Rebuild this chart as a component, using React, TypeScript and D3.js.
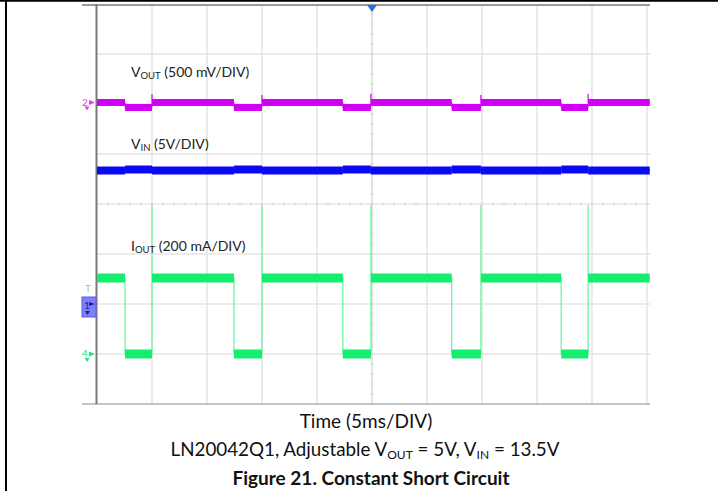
import React from "react";
import * as d3 from "d3";

// time in divisions (5 ms/div), levels in vertical divisions from bottom
const edgeTimes = [0, 0.51, 1.0, 2.49, 3.0, 4.47, 4.98, 6.45, 6.98, 8.44, 8.93, 10.05];
const ioutLevels = [2.52, 1.0, 2.52, 1.0, 2.52, 1.0, 2.52, 1.0, 2.52, 1.0, 2.52];
const voutLevels = [6.03, 5.93, 6.03, 5.93, 6.03, 5.93, 6.03, 5.93, 6.03, 5.93, 6.03];
const vinLevels = [4.67, 4.69, 4.67, 4.69, 4.67, 4.69, 4.67, 4.69, 4.67, 4.69, 4.67];
const ioutSpikeTimes = [1.0, 3.0, 4.98, 6.98, 8.93];
const ioutSpikeLevels = [3.98, 3.98, 3.98, 3.98, 3.98];
const voutSpikeLevels = [6.2, 6.18, 6.2, 6.18, 6.2];

const xDivs = d3.range(0, 11);
const yDivs = d3.range(0, 9);

const W = 718, H = 491;
const x = d3.scaleLinear().domain([0, 10]).range([97, 647]);
const y = d3.scaleLinear().domain([0, 8]).range([404, 4]);

const MAG = "#d100f5";
const BLUE = "#0a0af0";
const GREEN = "#14ee6e";
const GREEN_EDGE = "#6ff5a6";

function stepPath(levels: number[]) {
  const pts: [number, number][] = [];
  levels.forEach((v, i) => {
    pts.push([x(edgeTimes[i]), y(v)]);
    pts.push([x(edgeTimes[i + 1]), y(v)]);
  });
  return d3.line()(pts) || "";
}

function Bands({ levels, color, width }: { levels: number[]; color: string; width: number }) {
  return (
    <g>
      {levels.map((v, i) => (
        <line
          key={i}
          x1={x(edgeTimes[i])}
          x2={x(edgeTimes[i + 1])}
          y1={y(v)}
          y2={y(v)}
          stroke={color}
          strokeWidth={width}
        />
      ))}
    </g>
  );
}

export default function App() {
  const font = "Lato, 'Open Sans', sans-serif";
  const minorV = d3.range(0, 8 * 5 + 1).map((i) => y(i / 5));
  const minorH = d3.range(0, 10 * 5 + 1).map((i) => x(i / 5));
  return (
    <svg width={W} height={H} style={{ position: "absolute", left: 0, top: 0 }}>
      <rect width={W} height={H} fill="#fff" />
      {/* outer frame */}
      <line x1={0} x2={W} y1={0.8} y2={0.8} stroke="#000" strokeWidth={2} />
      <line x1={6} x2={6} y1={0} y2={H} stroke="#000" strokeWidth={2} />

      {/* grid */}
      {xDivs.slice(1).map((d) => (
        <line key={"vx" + d} x1={x(d)} x2={x(d)} y1={y(8)} y2={y(0)} stroke={d === 5 ? "#d8d8d8" : "#e4e4e4"} strokeWidth={1.5} />
      ))}
      {yDivs.slice(1, 8).map((d) => (
        <line key={"hy" + d} x1={x(0)} x2={650} y1={y(d)} y2={y(d)} stroke="#e4e4e4" strokeWidth={1.5} />
      ))}
      {minorV.map((py, i) => (
        <line key={"mv" + i} x1={x(5) - 1.5} x2={x(5) + 1.5} y1={py} y2={py} stroke="#d0d0d0" strokeWidth={1} />
      ))}
      {minorH.map((px, i) => (
        <line key={"mh" + i} x1={px} x2={px} y1={y(4) - 1.5} y2={y(4) + 1.5} stroke="#d0d0d0" strokeWidth={1} />
      ))}
      <line x1={82} x2={650} y1={y(8) + 1} y2={y(8) + 1} stroke="#9a9a9a" strokeWidth={2} />
      <line x1={82} x2={650} y1={y(0)} y2={y(0)} stroke="#b0b0b0" strokeWidth={1.5} />
      <line x1={x(0) - 0.5} x2={x(0) - 0.5} y1={y(8)} y2={y(0)} stroke="#7a7a7a" strokeWidth={2} />

      {/* trigger marker */}
      <path d={`M${x(5) - 5},${y(8) + 1} L${x(5) + 5},${y(8) + 1} L${x(5)},${y(8) + 8} Z`} fill="#2a6cf0" />

      {/* VIN */}
      <path d={stepPath(vinLevels)} fill="none" stroke={BLUE} strokeWidth={1} />
      <Bands levels={vinLevels} color={BLUE} width={8} />

      {/* VOUT */}
      <path d={stepPath(voutLevels)} fill="none" stroke={MAG} strokeWidth={1} />
      <Bands levels={voutLevels} color={MAG} width={7} />
      {ioutSpikeTimes.map((t, i) => (
        <line key={"vs" + i} x1={x(t)} x2={x(t)} y1={y(voutLevels[0])} y2={y(voutSpikeLevels[i])} stroke={MAG} strokeWidth={1.2} />
      ))}

      {/* IOUT */}
      <path d={stepPath(ioutLevels)} fill="none" stroke={GREEN_EDGE} strokeWidth={1.3} />
      {ioutSpikeTimes.map((t, i) => (
        <line key={"is" + i} x1={x(t)} x2={x(t)} y1={y(ioutLevels[0])} y2={y(ioutSpikeLevels[i])} stroke={GREEN_EDGE} strokeWidth={1.3} />
      ))}
      <Bands levels={ioutLevels} color={GREEN} width={9} />

      {/* channel markers */}
      <g fontFamily={font} fontSize={10}>
        <text x={82} y={y(6.03) + 3} fill="#e040f5">2</text>
        <path d={`M89,${y(6.03) - 2.5} L95,${y(6.03)} L89,${y(6.03) + 2.5} Z`} fill="#e040f5" />
        <path d={`M84.5,${y(6.03) + 4} L89.5,${y(6.03) + 4} L87,${y(6.03) + 8} Z`} fill="#e040f5" />
        <text x={85} y={292} fill="#7fd39a">T</text>
        <rect x={82} y={297} width={14} height={20} fill="#7f7ff7" stroke="#5b5bea" />
        <text x={84} y={309} fill="#1a1ab0">1</text>
        <path d={`M89,302 L95,304 L89,306 Z`} fill="#1a1ab0" />
        <path d={`M85,311 L90,311 L87.5,315 Z`} fill="#1a1ab0" />
        <text x={82} y={y(1) + 3} fill="#30e070">4</text>
        <path d={`M89,${y(1) - 2.5} L95,${y(1)} L89,${y(1) + 2.5} Z`} fill="#30e070" />
        <path d={`M84.5,${y(1) + 4} L89.5,${y(1) + 4} L87,${y(1) + 8} Z`} fill="#30e070" />
      </g>

      {/* trace labels */}
      <g fontFamily={font} fontSize={14} fill="#222">
        <text x={131} y={77}>V<tspan fontSize={9.5} dy={2}>OUT</tspan><tspan dy={-2}> (500 mV/DIV)</tspan></text>
        <text x={131} y={149}>V<tspan fontSize={9.5} dy={2}>IN</tspan><tspan dy={-2}> (5V/DIV)</tspan></text>
        <text x={131} y={251}>I<tspan fontSize={9.5} dy={2}>OUT</tspan><tspan dy={-2}> (200 mA/DIV)</tspan></text>
      </g>

      {/* captions */}
      <g fontFamily={font} fill="#111" textAnchor="middle">
        <text x={366} y={428} fontSize={19}>Time (5ms/DIV)</text>
        <text x={365} y={456} fontSize={18.8}>LN20042Q1, Adjustable V<tspan fontSize={12} dy={3}>OUT</tspan><tspan dy={-3}> = 5V, V</tspan><tspan fontSize={12} dy={3}>IN</tspan><tspan dy={-3}> = 13.5V</tspan></text>
        <text x={371} y={485} fontSize={19} fontWeight="bold">Figure 21. Constant Short Circuit</text>
      </g>
    </svg>
  );
}
